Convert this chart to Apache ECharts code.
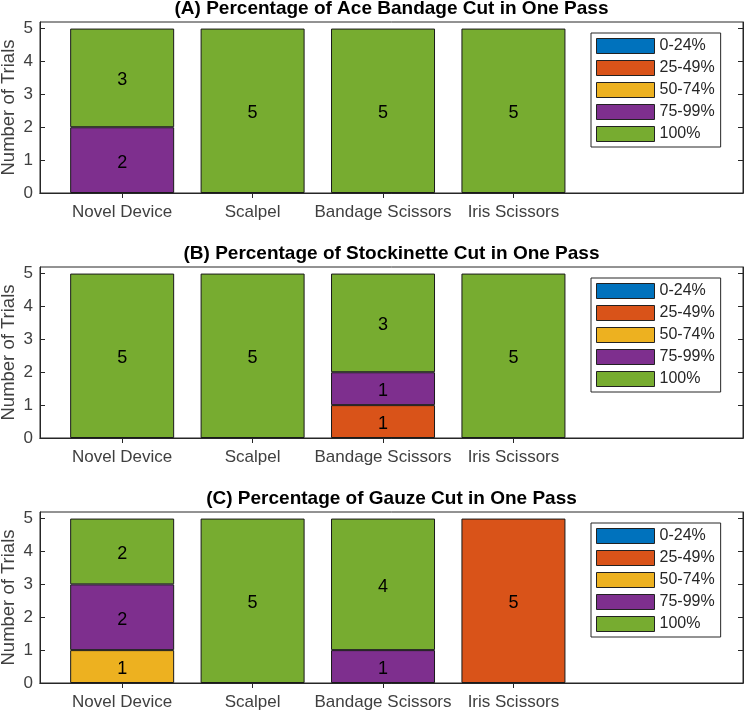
<!DOCTYPE html>
<html>
<head>
<meta charset="utf-8">
<script src="https://cdn.jsdelivr.net/npm/echarts@6/dist/echarts.min.js"></script>
<style>
html,body{margin:0;padding:0;background:#fff;}
#chart{width:744px;height:712px;}
</style>
</head>
<body>
<div id="chart"></div>
<script>
// ---- data ----
const categories = ['Novel Device', 'Scalpel', 'Bandage Scissors', 'Iris Scissors'];
const levels = ['0-24%', '25-49%', '50-74%', '75-99%', '100%'];
const levelColors = ['#0072BD', '#D95319', '#EDB120', '#7E2F8E', '#77AC30'];
const panelTitles = [
  '(A) Percentage of Ace Bandage Cut in One Pass',
  '(B) Percentage of Stockinette Cut in One Pass',
  '(C) Percentage of Gauze Cut in One Pass'
];
const yTicks = [0, 1, 2, 3, 4, 5];
// rows = levels (0-24, 25-49, 50-74, 75-99, 100), columns = categories
const aceBandage = [
  [0, 0, 0, 0],
  [0, 0, 0, 0],
  [0, 0, 0, 0],
  [2, 0, 0, 0],
  [3, 5, 5, 5]
];
const stockinette = [
  [0, 0, 0, 0],
  [0, 0, 1, 0],
  [0, 0, 0, 0],
  [0, 0, 1, 0],
  [5, 5, 3, 5]
];
const gauze = [
  [0, 0, 0, 0],
  [0, 0, 0, 5],
  [1, 0, 0, 0],
  [2, 0, 1, 0],
  [2, 5, 4, 0]
];
const panels = [aceBandage, stockinette, gauze];

// ---- layout ----
const gridLeft = 40, gridRight = 1, gridH = 171;
const gridTops = [22, 267, 512];
const xPos = categories.map((c, i) => i + 1);
const FONT = 'Liberation Sans, Arial, sans-serif';

const chart = echarts.init(document.getElementById('chart'), null, {renderer: 'canvas'});
const axisColor = '#262626';
const grids = [], xAxes = [], yAxes = [], series = [], legends = [], graphics = [];

panels.forEach((panel, p) => {
  grids.push({
    left: gridLeft, right: gridRight, top: gridTops[p], height: gridH,
    outerBoundsMode: 'none', containLabel: false,
    show: true, borderColor: axisColor, borderWidth: 1, backgroundColor: '#fff'
  });
  const xBase = {
    type: 'value', gridIndex: p, min: 0.37, max: 5.76,
    splitLine: {show: false},
    axisLine: {show: true, lineStyle: {color: axisColor, width: 1}},
    axisTick: {show: true, inside: true, length: 5, customValues: xPos, lineStyle: {color: axisColor}}
  };
  xAxes.push(Object.assign({}, xBase, {
    position: 'bottom',
    axisLabel: {
      show: true, customValues: xPos, margin: 11, fontSize: 17, color: '#404040', fontFamily: FONT,
      formatter: v => categories[Math.round(v) - 1] || ''
    }
  }));
  xAxes.push(Object.assign({}, xBase, {position: 'top', axisLabel: {show: false}}));
  const yBase = {
    type: 'value', gridIndex: p, min: 0, max: 5.2,
    splitLine: {show: false},
    axisLine: {show: true, lineStyle: {color: axisColor, width: 1}},
    axisTick: {show: true, inside: true, length: 5, customValues: yTicks, lineStyle: {color: axisColor}}
  };
  yAxes.push(Object.assign({}, yBase, {
    position: 'left',
    name: 'Number of Trials', nameLocation: 'middle', nameGap: 22, nameRotate: 90,
    nameMoveOverlap: false,
    nameTextStyle: {fontSize: 18.5, color: '#404040', fontFamily: FONT},
    axisLabel: {show: true, customValues: yTicks, margin: 7, fontSize: 17, color: '#404040', fontFamily: FONT}
  }));
  yAxes.push(Object.assign({}, yBase, {position: 'right', axisLabel: {show: false}}));

  levels.forEach((lv, k) => {
    series.push({
      type: 'bar', name: lv, stack: 'panel' + p,
      xAxisIndex: 2 * p, yAxisIndex: 2 * p,
      barWidth: 104,
      encode: {x: 1, y: 0},
      itemStyle: {color: levelColors[k], borderColor: '#1a1a1a', borderWidth: 1},
      label: {
        show: true, position: 'inside', offset: [0, 2.5], color: '#000', fontSize: 18, fontFamily: FONT,
        formatter: d => (d.value && d.value[0] != null) ? String(d.value[0]) : ''
      },
      emphasis: {disabled: true},
      // each point: [count, category position]
      data: panel[k].map((v, i) => [v > 0 ? v : null, xPos[i]])
    });
  });

  legends.push({
    data: levels, orient: 'vertical', left: 591, top: gridTops[p] + 11,
    itemWidth: 58, itemHeight: 15, itemGap: 6, itemStyle: {borderColor: '#222', borderWidth: 1},
    padding: [5, 6, 5, 5], borderColor: axisColor, borderWidth: 1, backgroundColor: '#fff',
    icon: 'rect',
    textStyle: {fontSize: 16, lineHeight: 15, color: '#262626', fontFamily: FONT},
    selectedMode: false
  });

  graphics.push({
    type: 'text', x: (gridLeft + 743) / 2, y: gridTops[p] - 13,
    style: {text: panelTitles[p], fill: '#000', font: 'bold 19px "Liberation Sans", Arial, sans-serif',
      textAlign: 'center', textVerticalAlign: 'middle', align: 'center', verticalAlign: 'middle'}
  });
});

chart.setOption({
  animation: false,
  backgroundColor: '#fff',
  grid: grids, xAxis: xAxes, yAxis: yAxes, series: series, legend: legends,
  graphic: graphics
});
</script>
</body>
</html>
